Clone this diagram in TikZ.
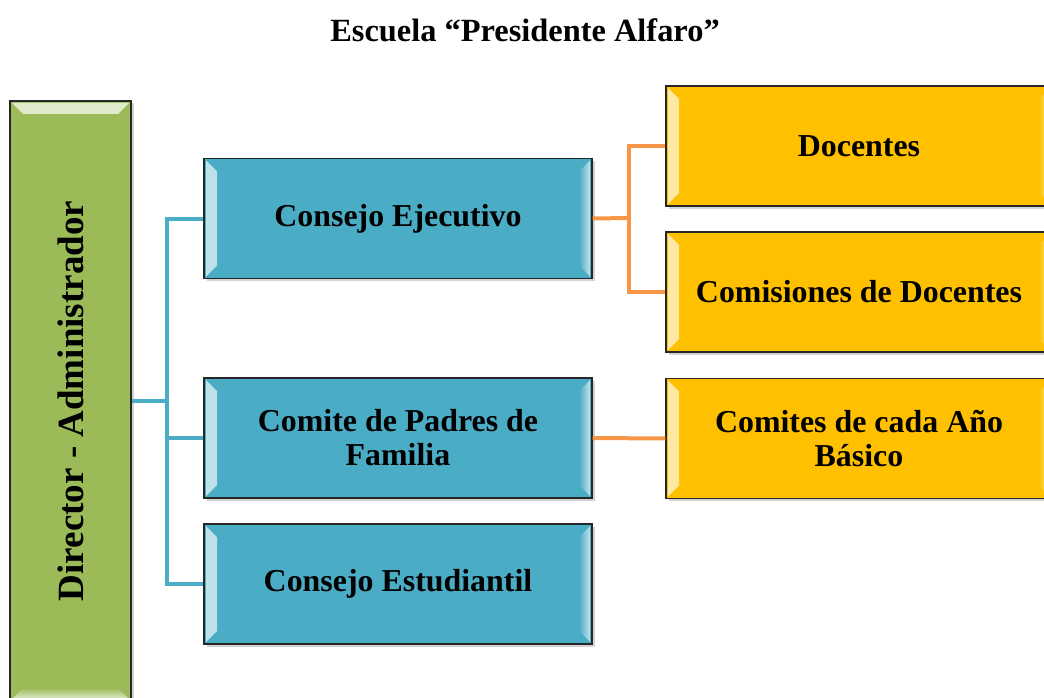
\documentclass[tikz,border=0pt]{standalone}
\usepackage{fontspec}
\setmainfont{Liberation Serif}
\usetikzlibrary{shadows,calc}
\definecolor{gr}{HTML}{9BBB59}
\definecolor{bl}{HTML}{4BACC6}
\definecolor{gd}{HTML}{FFC000}
\definecolor{bline}{HTML}{4BACC6}
\definecolor{oline}{HTML}{F79646}
\tikzset{
  box/.style={draw=black!85, line width=1.3pt, inner sep=0pt, align=center,
    font=\fontsize{31.9}{34}\selectfont\bfseries,
    drop shadow={shadow xshift=2.5pt, shadow yshift=-2.5pt, opacity=0.35}},
  hbevel/.style={path picture={
    \shade[left color=#1!35!white, right color=#1]
      ([shift={(2,2)}]path picture bounding box.north west) -- ++(11,11)
      -- ([shift={(13,-13)}]path picture bounding box.south west)
      -- ([shift={(2,-2)}]path picture bounding box.south west) -- cycle;
    \shade[right color=#1!35!white, left color=#1]
      ([shift={(-2,2)}]path picture bounding box.north east) -- ++(-11,11)
      -- ([shift={(-13,-13)}]path picture bounding box.south east)
      -- ([shift={(-2,-2)}]path picture bounding box.south east) -- cycle;
  }},
  vbevel/.style={path picture={
    \shade[top color=#1!30!white, bottom color=#1]
      ([shift={(2,2)}]path picture bounding box.north west) -- ++(11,11)
      -- ([shift={(-13,13)}]path picture bounding box.north east)
      -- ([shift={(-2,2)}]path picture bounding box.north east) -- cycle;
    \shade[bottom color=#1!30!white, top color=#1]
      ([shift={(2,-2)}]path picture bounding box.south west) -- ++(11,-11)
      -- ([shift={(-13,-13)}]path picture bounding box.south east)
      -- ([shift={(-2,-2)}]path picture bounding box.south east) -- cycle;
  }},
  bluebox/.style={box, fill=bl, hbevel=bl, minimum width=388pt, minimum height=120pt},
  goldbox/.style={box, fill=gd, hbevel=gd, minimum width=386pt, minimum height=120pt},
  blink/.style={draw=bline, line width=4pt},
  olink/.style={draw=oline, line width=4pt},
}
\begin{document}
\begin{tikzpicture}[x=1pt,y=-1pt]
\useasboundingbox (0,0) rectangle (1044,698);
\clip (0,0) rectangle (1044,698);
\node[font=\fontsize{32.4}{36}\selectfont\bfseries] (title) at (525,30) {Escuela “Presidente Alfaro”};
\coordinate (bj) at (167,401);
\coordinate (oj) at (629,218);
\node[box, fill=gr, vbevel=gr, minimum width=121pt, minimum height=600pt,
  font=\fontsize{37}{40}\selectfont\bfseries] (dir) at (70.5,401)
  {\rotatebox{90}{Director - Administrador}};
\node[bluebox] (ce) at (398,218.5) {Consejo Ejecutivo};
\node[bluebox] (cp) at (398,438) {Comite de Padres de\\Familia};
\node[bluebox] (cest) at (398,584) {Consejo Estudiantil};
\node[goldbox] (doc) at (859,146) {Docentes};
\node[goldbox] (com) at (859,292) {Comisiones de Docentes};
\node[goldbox] (cab) at (859,438.5) {Comites de cada Año\\Básico};
\draw[blink] (dir.east) -- (bj);
\draw[blink] (ce.west) -| (bj) |- (cest.west);
\draw[blink] (cp.west) -- (cp.west -| bj);
\draw[olink] (ce.east) -- (oj);
\draw[olink] (doc.west) -| (oj) |- (com.west);
\draw[olink] (cp.east) -- (cab.west);
\end{tikzpicture}
\end{document}
